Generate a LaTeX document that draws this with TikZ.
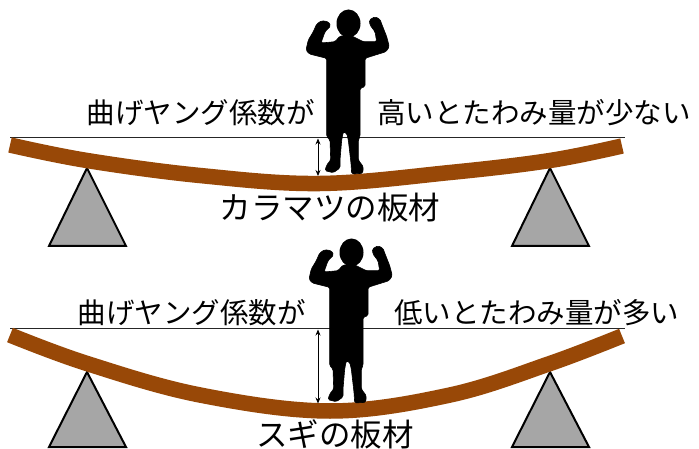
\documentclass[tikz,border=0pt]{standalone}
\usepackage{fontspec}
\setmainfont{Noto Sans CJK JP}
\usetikzlibrary{arrows.meta}
\definecolor{plankbrown}{HTML}{984807}
\definecolor{supportgray}{HTML}{A6A6A6}
\tikzset{
  plank/.style={draw=plankbrown, line width=15.5pt, line cap=butt},
  support/.style={draw=black, line width=2pt, fill=supportgray, line join=miter},
  refline/.style={draw=black!85, line width=0.9pt},
  gap/.style={draw=black, line width=0.8pt, {Stealth[length=6pt,width=5pt]}-{Stealth[length=6pt,width=5pt]}},
  label/.style={inner sep=0pt, font=\fontsize{28.5}{30}\selectfont},
  title/.style={inner sep=0pt, font=\fontsize{31.5}{33}\selectfont},
  kid/.style={fill=black, draw=black, line width=0.6pt, rounded corners=1.5pt}
}
% silhouette of a child flexing both arms, feet resting near (345,174)
\newcommand{\kidshape}{%
  \fill[black] (348.5,23.5) ellipse [x radius=12, y radius=14];
  \path[kid]
    (316.7,24) -- (321.7,20.7) -- (328.3,21.7) -- (330.7,26)
    -- (325,31.7) -- (321,43) -- (335,41.7) -- (340,36)
    -- (352,36) -- (363.3,41.7) -- (376.7,41.7) -- (375,31.7)
    -- (370,25) -- (369.3,20) -- (375,16.7) -- (380,19.3)
    -- (381.7,24) -- (386.7,36.7) -- (389.3,46.7) -- (386,51.7)
    -- (365,58.3) -- (365,86.7) -- (360,88.3) -- (360,136.7)
    -- (358.3,140) -- (358.3,160) -- (363.3,166.7) -- (362.7,173.3)
    -- (351.7,174) -- (351,163.3) -- (348.3,140) -- (346.7,133.3)
    -- (343.3,131.7) -- (341.7,140) -- (340,160) -- (340,168)
    -- (333.3,172.7) -- (325,170.7) -- (326.7,165) -- (330.7,160)
    -- (330,140) -- (326.7,136.7) -- (326.7,88.3) -- (326.7,58.3)
    -- (309.3,54) -- (306,50) -- (308.3,40) -- (313.3,31.7) -- cycle;
}
\begin{document}
\begin{tikzpicture}[x=1pt,y=-1pt]
\useasboundingbox[fill=white] (0,0) rectangle (699,449);

% ---------- upper board: larch ----------
\draw[support] (87,168) -- (126,246) -- (49,246) -- cycle;
\draw[support] (550,168) -- (589,246) -- (512,246) -- cycle;
\draw[refline] (10,137.5) -- (625,137.5);
\draw[plank] plot[smooth, tension=0.6] coordinates
  {(10,145) (87,160.5) (200,175.5) (320,183.5) (450,172.5) (550,160.5) (622,146)};
\kidshape
\coordinate (topA) at (318,138.5);
\coordinate (topB) at (318,176);
\draw[gap] (topA) -- (topB);
\node[label, anchor=east] (topL) at (315,113) {曲げヤング係数が};
\node[label, anchor=west] (topR) at (377,113) {高いとたわみ量が少ない};
\node[title] (topN) at (330,208) {カラマツの板材};

% ---------- lower board: cedar ----------
\draw[support] (87,372) -- (126,447) -- (49,447) -- cycle;
\draw[support] (550,372) -- (589,447) -- (512,447) -- cycle;
\draw[refline] (10,328.5) -- (625,328.5);
\draw[plank] plot[smooth, tension=0.6] coordinates
  {(10,335) (87,363.5) (200,395) (330,411) (450,395) (550,363.5) (622,336)};
\begin{scope}[shift={(3,229)}]
  \kidshape
\end{scope}
\coordinate (botA) at (318,329.5);
\coordinate (botB) at (318,403.5);
\draw[gap] (botA) -- (botB);
\node[label, anchor=east] (botL) at (306,313) {曲げヤング係数が};
\node[label, anchor=west] (botR) at (394,313) {低いとたわみ量が多い};
\node[title] (botN) at (335,434) {スギの板材};
\end{tikzpicture}
\end{document}
